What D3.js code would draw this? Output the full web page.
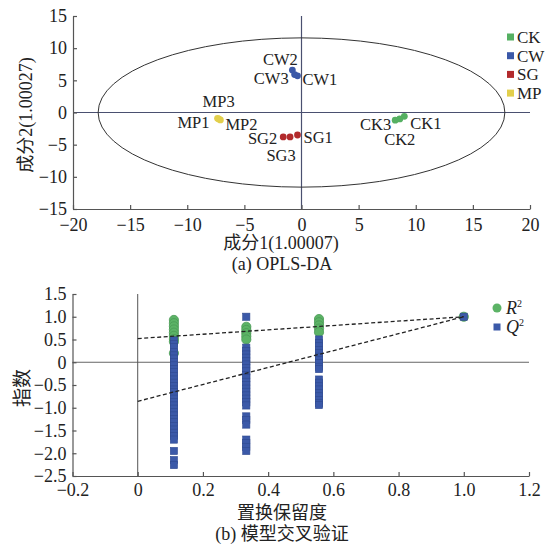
<!DOCTYPE html>
<html>
<head>
<meta charset="utf-8">
<script src="https://cdn.jsdelivr.net/npm/d3@7/dist/d3.min.js"></script>
<style>
  html, body { margin: 0; padding: 0; background: #fff; }
  svg { display: block; }
  text { font-family: "Liberation Serif", "Noto Sans CJK SC", serif; fill: #222; }
</style>
</head>
<body>
<svg id="chart" width="556" height="548"></svg>
<script>
// (a) OPLS-DA score plot — groups and sample scores
const groups = ["CK", "CW", "SG", "MP"];
const groupColors = { CK: "#55b062", CW: "#3a58a8", SG: "#b22a2c", MP: "#e2cf4c" };
const samples = [
  { name: "CK1", group: "CK", t1: 9.0, t2: -0.6 },
  { name: "CK2", group: "CK", t1: 8.6, t2: -1.0 },
  { name: "CK3", group: "CK", t1: 8.2, t2: -1.2 },
  { name: "CW1", group: "CW", t1: -0.35, t2: 5.7 },
  { name: "CW2", group: "CW", t1: -0.8, t2: 6.6 },
  { name: "CW3", group: "CW", t1: -0.6, t2: 5.9 },
  { name: "SG1", group: "SG", t1: -0.35, t2: -3.5 },
  { name: "SG2", group: "SG", t1: -1.6, t2: -3.8 },
  { name: "SG3", group: "SG", t1: -1.0, t2: -3.8 },
  { name: "MP1", group: "MP", t1: -7.35, t2: -0.9 },
  { name: "MP2", group: "MP", t1: -7.1, t2: -1.15 },
  { name: "MP3", group: "MP", t1: -7.25, t2: -1.0 },
];
// Hotelling T2 ellipse half-axes
const ellipseRx = 17.8;
const ellipseRy = 11.6;
const scoreTicksX = [-20, -15, -10, -5, 0, 5, 10, 15, 20];
const scoreTicksY = [-15, -10, -5, 0, 5, 10, 15];

// (b) permutation test — retention levels and R2 / Q2 values
const retention = [0.111, 0.333, 0.556, 1.0];
const r2Values = [
  [0.93, 0.86, 0.79, 0.72, 0.65, 0.58, 0.51, 0.45, 0.20],
  [0.78, 0.71, 0.64, 0.57, 0.50],
  [0.95, 0.88, 0.81, 0.74, 0.66],
  [1.0],
];
const q2Values = [
  [0.48, 0.40, 0.33, 0.22, 0.15, 0.08, 0.0, -0.07, -0.15, -0.22, -0.30, -0.38, -0.45, -0.52, -0.60,
   -0.66, -0.73, -0.80, -0.88, -0.95, -1.02, -1.10, -1.17, -1.25, -1.32, -1.40, -1.48, -1.55,
   -1.62, -1.70, -1.95, -2.15, -2.26],
  [1.0, 0.32, 0.25, 0.17, 0.10, 0.02, -0.05, -0.13, -0.20, -0.28, -0.35, -0.43, -0.50, -0.58,
   -0.65, -0.73, -0.80, -0.88, -0.95, -1.19, -1.27, -1.37, -1.70, -1.78, -1.86, -1.95],
  [0.50, 0.42, 0.35, 0.27, 0.20, 0.12, 0.05, -0.02, -0.10, -0.15, -0.38, -0.45, -0.53, -0.60,
   -0.68, -0.75, -0.83, -0.90, -0.94],
  [1.0],
];
// regression lines: intercept at 0, value at 1
const r2Line = [[0, 0.52], [1, 1.0]];
const q2Line = [[0, -0.86], [1, 1.0]];
const permTicksX = [-0.2, 0, 0.2, 0.4, 0.6, 0.8, 1.0, 1.2];
const permTicksY = [-2.5, -2.0, -1.5, -1.0, -0.5, 0, 0.5, 1.0, 1.5];

const svg = d3.select("#chart");
const fmtNum = (v, dec) => (v === 0 ? "0" : (v < 0 ? "\u2212" : "") + Math.abs(v).toFixed(dec));

// label offsets (px) relative to each sample point
const labelPos = {
  CK1: [6, 7, "start"], CK2: [0, 20, "middle"], CK3: [-4, 4, "end"],
  CW1: [5, 3, "start"], CW2: [-12, -11, "middle"], CW3: [-6, 4, "end"],
  SG1: [6, 2, "start"], SG2: [-6, 1, "end"], SG3: [-9, 18, "middle"],
  MP1: [-8, 4, "end"], MP2: [5, 4, "start"], MP3: [0, -18, "middle"],
};

// ---------- (a) ----------
{
  const x = d3.scaleLinear().domain([-20, 20]).range([73, 530]);
  const y = d3.scaleLinear().domain([-15, 15]).range([209, 16]);
  const g = svg.append("g");

  g.append("line").attr("x1", x(-20)).attr("x2", x(20)).attr("y1", y(0)).attr("y2", y(0))
    .attr("stroke", "#4a5070").attr("stroke-width", 1.2);
  g.append("line").attr("x1", x(0)).attr("x2", x(0)).attr("y1", y(15)).attr("y2", y(-15))
    .attr("stroke", "#4a5070").attr("stroke-width", 1.2);

  g.append("ellipse").attr("cx", x(0)).attr("cy", y(0))
    .attr("rx", x(ellipseRx) - x(0)).attr("ry", y(0) - y(ellipseRy))
    .attr("fill", "none").attr("stroke", "#333").attr("stroke-width", 1);

  const ax = g.append("g").attr("transform", `translate(0,${y(-15)})`)
    .call(d3.axisBottom(x).tickValues(scoreTicksX).tickSizeInner(-4).tickSizeOuter(0)
      .tickPadding(9).tickFormat((v) => fmtNum(v, 0)));
  const ay = g.append("g").attr("transform", `translate(${x(-20)},0)`)
    .call(d3.axisLeft(y).tickValues(scoreTicksY).tickSizeInner(-4).tickSizeOuter(0)
      .tickPadding(6).tickFormat((v) => fmtNum(v, 0)));
  [ax, ay].forEach((a) => {
    a.selectAll("path, line").attr("stroke", "#555").attr("stroke-width", 1.2);
    a.selectAll("text").style("font-size", "18px").style("font-family", "Liberation Serif").attr("fill", "#222");
  });

  g.selectAll("circle.pt").data(samples).join("circle").attr("class", "pt")
    .attr("cx", (d) => x(d.t1)).attr("cy", (d) => y(d.t2)).attr("r", 3.4)
    .attr("fill", (d) => groupColors[d.group]);

  g.selectAll("text.lab").data(samples).join("text").attr("class", "lab")
    .attr("x", (d) => x(d.t1) + labelPos[d.name][0])
    .attr("y", (d) => y(d.t2) + labelPos[d.name][1])
    .attr("dy", "0.35em").attr("text-anchor", (d) => labelPos[d.name][2])
    .style("font-size", "16.5px").text((d) => d.name);

  groups.forEach((k, i) => {
    const ly = 37 + i * 18.7;
    g.append("rect").attr("x", 507).attr("y", ly - 3.5).attr("width", 7).attr("height", 7)
      .attr("fill", groupColors[k]);
    g.append("text").attr("x", 517).attr("y", ly).attr("dy", "0.35em")
      .style("font-size", "17px").text(k);
  });

  g.append("text").attr("x", 281).attr("y", 243).attr("dy", "0.35em").attr("text-anchor", "middle")
    .style("font-size", "18px").text("成分1(1.00007)");
  g.append("text").attr("x", 282).attr("y", 264).attr("dy", "0.35em").attr("text-anchor", "middle")
    .style("font-size", "18px").text("(a) OPLS-DA");
  g.append("text").attr("transform", "translate(26,115) rotate(-90)").attr("dy", "0.35em")
    .attr("text-anchor", "middle").style("font-size", "18px").text("成分2(1.00027)");
}

// ---------- (b) ----------
{
  const x = d3.scaleLinear().domain([-0.2, 1.2]).range([72.5, 529]);
  const y = d3.scaleLinear().domain([-2.5, 1.5]).range([476, 294]);
  const g = svg.append("g");

  g.append("line").attr("x1", x(-0.2)).attr("x2", x(1.2)).attr("y1", y(0)).attr("y2", y(0))
    .attr("stroke", "#666").attr("stroke-width", 1);
  g.append("line").attr("x1", x(0)).attr("x2", x(0)).attr("y1", y(1.5)).attr("y2", y(-2.5))
    .attr("stroke", "#555").attr("stroke-width", 1);

  const ax = g.append("g").attr("transform", `translate(0,${y(-2.5)})`)
    .call(d3.axisBottom(x).tickValues(permTicksX).tickSizeInner(-4).tickSizeOuter(0)
      .tickPadding(7).tickFormat((v) => fmtNum(v, 1)));
  const ay = g.append("g").attr("transform", `translate(${x(-0.2)},0)`)
    .call(d3.axisLeft(y).tickValues(permTicksY).tickSizeInner(-4).tickSizeOuter(0)
      .tickPadding(6).tickFormat((v) => fmtNum(v, 1)));
  [ax, ay].forEach((a) => {
    a.selectAll("path, line").attr("stroke", "#555").attr("stroke-width", 1.2);
    a.selectAll("text").style("font-size", "18px").style("font-family", "Liberation Serif").attr("fill", "#222");
  });

  const r2Pts = retention.flatMap((rx, i) => r2Values[i].map((v) => ({ rx, v })));
  const q2Pts = retention.flatMap((rx, i) => q2Values[i].map((v) => ({ rx, v })));

  g.selectAll("circle.r2").data(r2Pts).join("circle").attr("class", "r2")
    .attr("cx", (d) => x(d.rx)).attr("cy", (d) => y(d.v)).attr("r", 4.6)
    .attr("fill", "#5cb366").attr("stroke", "#4a9a55").attr("stroke-width", 0.8);

  g.selectAll("rect.q2").data(q2Pts).join("rect").attr("class", "q2")
    .attr("x", (d) => x(d.rx) - 3.6).attr("y", (d) => y(d.v) - 3.6)
    .attr("width", 7.2).attr("height", 7.2)
    .attr("fill", "#3b59a8").attr("stroke", "#2f4a8f").attr("stroke-width", 0.6);

  const line = d3.line().x((d) => x(d[0])).y((d) => y(d[1]));
  [r2Line, q2Line].forEach((ln) => {
    g.append("path").attr("d", line(ln)).attr("fill", "none")
      .attr("stroke", "#222").attr("stroke-width", 1.3).attr("stroke-dasharray", "4,2.5");
  });

  // legend
  g.append("circle").attr("cx", 497).attr("cy", 308).attr("r", 4.5).attr("fill", "#5cb366");
  g.append("rect").attr("x", 493.5).attr("y", 323.5).attr("width", 7).attr("height", 7).attr("fill", "#3b59a8");
  const l1 = g.append("text").attr("x", 506).attr("y", 314).style("font-size", "18px").style("font-style", "italic");
  l1.append("tspan").text("R");
  l1.append("tspan").attr("dy", -7).style("font-size", "10px").style("font-style", "normal").text("2");
  const l2 = g.append("text").attr("x", 506).attr("y", 333).style("font-size", "18px").style("font-style", "italic");
  l2.append("tspan").text("Q");
  l2.append("tspan").attr("dy", -7).style("font-size", "10px").style("font-style", "normal").text("2");

  g.append("text").attr("x", 282).attr("y", 513).attr("dy", "0.35em").attr("text-anchor", "middle")
    .style("font-size", "18px").text("置换保留度");
  g.append("text").attr("x", 282).attr("y", 534).attr("dy", "0.35em").attr("text-anchor", "middle")
    .style("font-size", "18px").text("(b) 模型交叉验证");
  g.append("text").attr("transform", "translate(22,388) rotate(-90)").attr("dy", "0.35em")
    .attr("text-anchor", "middle").style("font-size", "19px").text("指数");
}
</script>
</body>
</html>
